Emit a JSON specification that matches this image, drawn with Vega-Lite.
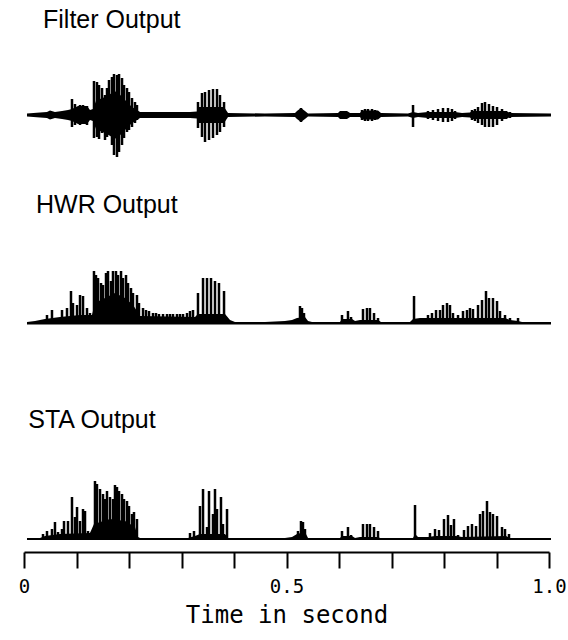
{
  "$schema": "https://vega.github.io/schema/vega-lite/v6.json",
  "background": "white",
  "padding": {"left": 18, "top": 8, "right": 0, "bottom": 0},
  "spacing": 10,
  "config": {
    "view": {"stroke": null},
    "title": {"font": "Liberation Sans", "fontSize": 25, "fontWeight": "normal", "anchor": "start", "color": "black", "offset": 4}
  },
  "datasets": {
    "filterSpikes": [
      {"t":0.0914,"hi":16,"lo":-12},{"t":0.0971,"hi":11,"lo":-10},{"t":0.1067,"hi":10,"lo":-10},{"t":0.1124,"hi":10,"lo":-9},{"t":0.12,"hi":9,"lo":-10},
      {"t":0.1333,"hi":34,"lo":-23},{"t":0.139,"hi":33,"lo":-22},{"t":0.1429,"hi":30,"lo":-24},{"t":0.1486,"hi":27,"lo":-18},{"t":0.1543,"hi":20,"lo":-25},{"t":0.1581,"hi":27,"lo":-22},{"t":0.1619,"hi":35,"lo":-17},{"t":0.1676,"hi":38,"lo":-30},{"t":0.1714,"hi":41,"lo":-40},{"t":0.1771,"hi":40,"lo":-42},{"t":0.181,"hi":41,"lo":-37},{"t":0.1867,"hi":37,"lo":-30},{"t":0.1905,"hi":30,"lo":-23},{"t":0.1962,"hi":27,"lo":-17},{"t":0.2,"hi":23,"lo":-15},{"t":0.2057,"hi":17,"lo":-12},{"t":0.2114,"hi":13,"lo":-8},{"t":0.2152,"hi":10,"lo":-5},
      {"t":0.3314,"hi":13,"lo":-13},{"t":0.339,"hi":22,"lo":-22},{"t":0.3448,"hi":23,"lo":-27},{"t":0.3524,"hi":25,"lo":-25},{"t":0.36,"hi":26,"lo":-23},{"t":0.3676,"hi":26,"lo":-20},{"t":0.3733,"hi":20,"lo":-17},{"t":0.381,"hi":13,"lo":-12},
      {"t":0.5276,"hi":7,"lo":-7},
      {"t":0.6438,"hi":5,"lo":-5},{"t":0.6495,"hi":6,"lo":-6},{"t":0.6552,"hi":6,"lo":-6},{"t":0.6629,"hi":6,"lo":-6},{"t":0.6686,"hi":5,"lo":-5},
      {"t":0.741,"hi":10,"lo":-12},
      {"t":0.7695,"hi":4,"lo":-4},{"t":0.779,"hi":5,"lo":-5},{"t":0.7886,"hi":6,"lo":-6},{"t":0.7981,"hi":7,"lo":-7},{"t":0.8076,"hi":7,"lo":-7},{"t":0.8152,"hi":6,"lo":-6},{"t":0.821,"hi":4,"lo":-4},
      {"t":0.8533,"hi":5,"lo":-5},{"t":0.859,"hi":6,"lo":-6},{"t":0.8648,"hi":8,"lo":-8},{"t":0.8724,"hi":12,"lo":-10},{"t":0.8781,"hi":13,"lo":-12},{"t":0.8857,"hi":11,"lo":-12},{"t":0.8933,"hi":9,"lo":-12},{"t":0.901,"hi":8,"lo":-10},{"t":0.9105,"hi":6,"lo":-6},{"t":0.9181,"hi":4,"lo":-4},{"t":0.9257,"hi":3,"lo":-3}
    ],
    "filterFloor": [
      {"t":0.0057,"hi":1.5,"lo":-1.5},{"t":0.0305,"hi":2.5,"lo":-2.5},{"t":0.0438,"hi":3,"lo":-3},{"t":0.0495,"hi":4.5,"lo":-4.5},{"t":0.059,"hi":3,"lo":-3},{"t":0.0724,"hi":4,"lo":-4},{"t":0.0838,"hi":5,"lo":-5},{"t":0.0914,"hi":6,"lo":-6},{"t":0.1029,"hi":9,"lo":-9},{"t":0.12,"hi":9,"lo":-9},{"t":0.1257,"hi":5,"lo":-5},{"t":0.1314,"hi":6,"lo":-6},{"t":0.1371,"hi":14,"lo":-14},{"t":0.1448,"hi":16,"lo":-16},{"t":0.1543,"hi":18,"lo":-18},{"t":0.1676,"hi":22,"lo":-22},{"t":0.1771,"hi":24,"lo":-24},{"t":0.1867,"hi":18,"lo":-18},{"t":0.1981,"hi":12,"lo":-12},{"t":0.2057,"hi":8,"lo":-8},{"t":0.2152,"hi":5,"lo":-5},{"t":0.221,"hi":3,"lo":-3},{"t":0.3162,"hi":3,"lo":-3},{"t":0.3295,"hi":3.5,"lo":-3.5},{"t":0.3314,"hi":8,"lo":-8},{"t":0.381,"hi":8,"lo":-8},{"t":0.3886,"hi":2,"lo":-2},{"t":0.459,"hi":1.5,"lo":-1.5},{"t":0.5162,"hi":2,"lo":-2},{"t":0.52,"hi":4,"lo":-4},{"t":0.5276,"hi":7,"lo":-7},{"t":0.5352,"hi":4,"lo":-4},{"t":0.541,"hi":1.5,"lo":-1.5},{"t":0.5981,"hi":2,"lo":-2},{"t":0.6019,"hi":4,"lo":-4},{"t":0.6152,"hi":4,"lo":-4},{"t":0.621,"hi":2,"lo":-2},{"t":0.64,"hi":2,"lo":-2},{"t":0.6438,"hi":4.5,"lo":-4.5},{"t":0.6743,"hi":4.5,"lo":-4.5},{"t":0.68,"hi":2,"lo":-2},{"t":0.7314,"hi":1.5,"lo":-1.5},{"t":0.741,"hi":3,"lo":-3},{"t":0.7505,"hi":2,"lo":-2},{"t":0.7695,"hi":3,"lo":-3},{"t":0.821,"hi":3,"lo":-3},{"t":0.8343,"hi":2,"lo":-2},{"t":0.8495,"hi":2.5,"lo":-2.5},{"t":0.8533,"hi":4,"lo":-4},{"t":0.9181,"hi":4,"lo":-4},{"t":0.9257,"hi":2,"lo":-2},{"t":1.0038,"hi":1.5,"lo":-1.5}
    ],
    "hwrSpikes": [
      {"t":0.0438,"a":8},{"t":0.0533,"a":13},{"t":0.0724,"a":13},{"t":0.0819,"a":15},{"t":0.0895,"a":32},{"t":0.0933,"a":20},{"t":0.101,"a":18},{"t":0.1067,"a":28},{"t":0.1124,"a":27},{"t":0.12,"a":15},{"t":0.1257,"a":10},
      {"t":0.1333,"a":52},{"t":0.1371,"a":48},{"t":0.141,"a":45},{"t":0.1467,"a":40},{"t":0.1505,"a":38},{"t":0.1562,"a":50},{"t":0.16,"a":52},{"t":0.1657,"a":42},{"t":0.1695,"a":52},{"t":0.1752,"a":52},{"t":0.179,"a":48},{"t":0.1848,"a":52},{"t":0.1886,"a":45},{"t":0.1943,"a":48},{"t":0.1981,"a":40},{"t":0.2038,"a":35},{"t":0.2076,"a":30},{"t":0.2152,"a":28},{"t":0.219,"a":20},
      {"t":0.2267,"a":15},{"t":0.2324,"a":13},{"t":0.2381,"a":12},{"t":0.2457,"a":10},{"t":0.2514,"a":10},{"t":0.2571,"a":9},{"t":0.2648,"a":9},{"t":0.2724,"a":9},{"t":0.2781,"a":9},{"t":0.2838,"a":9},{"t":0.2914,"a":9},{"t":0.2971,"a":9},{"t":0.3029,"a":9},{"t":0.3105,"a":10},{"t":0.3162,"a":12},{"t":0.3219,"a":13},
      {"t":0.3314,"a":30},{"t":0.341,"a":45},{"t":0.3486,"a":45},{"t":0.3562,"a":45},{"t":0.3638,"a":42},{"t":0.3714,"a":40},{"t":0.381,"a":32},
      {"t":0.5257,"a":17},{"t":0.5295,"a":15},{"t":0.5333,"a":10},
      {"t":0.6057,"a":8},{"t":0.6171,"a":12},{"t":0.6229,"a":6},
      {"t":0.6457,"a":14},{"t":0.6533,"a":15},{"t":0.659,"a":15},{"t":0.6667,"a":10},{"t":0.6743,"a":5},
      {"t":0.7429,"a":27},
      {"t":0.7581,"a":5},{"t":0.7695,"a":8},{"t":0.7771,"a":10},{"t":0.7848,"a":13},{"t":0.7924,"a":13},{"t":0.7981,"a":18},{"t":0.8057,"a":20},{"t":0.8114,"a":18},{"t":0.8171,"a":10},{"t":0.8267,"a":8},{"t":0.8362,"a":12},{"t":0.8438,"a":13},{"t":0.8495,"a":15},{"t":0.8552,"a":14},{"t":0.8648,"a":18},{"t":0.8724,"a":23},{"t":0.88,"a":32},{"t":0.8857,"a":25},{"t":0.8933,"a":25},{"t":0.901,"a":22},{"t":0.9067,"a":12},{"t":0.9162,"a":8},{"t":0.9257,"a":5},{"t":0.941,"a":5}
    ],
    "hwrFloor": [
      {"t":0.0057,"a":1},{"t":0.021,"a":2},{"t":0.04,"a":4},{"t":0.0686,"a":6},{"t":0.1067,"a":8},{"t":0.1295,"a":8},{"t":0.1352,"a":20},{"t":0.1543,"a":25},{"t":0.1733,"a":30},{"t":0.1924,"a":25},{"t":0.2076,"a":18},{"t":0.2152,"a":12},{"t":0.221,"a":7},{"t":0.3257,"a":6},{"t":0.3314,"a":9},{"t":0.3829,"a":9},{"t":0.3924,"a":3},{"t":0.4019,"a":1},{"t":0.459,"a":1},{"t":0.4971,"a":2},{"t":0.5105,"a":3},{"t":0.52,"a":5},{"t":0.5352,"a":6},{"t":0.541,"a":2},{"t":0.5486,"a":1},{"t":0.6019,"a":1},{"t":0.6057,"a":4},{"t":0.6248,"a":4},{"t":0.6305,"a":2},{"t":0.64,"a":3},{"t":0.6743,"a":3},{"t":0.68,"a":1},{"t":0.7352,"a":1},{"t":0.741,"a":4},{"t":0.7543,"a":5},{"t":0.9162,"a":5},{"t":0.9257,"a":3},{"t":0.941,"a":2},{"t":0.9486,"a":1},{"t":1.0038,"a":1}
    ],
    "staSpikes": [
      {"t":0.0362,"a":5},{"t":0.0438,"a":8},{"t":0.0533,"a":10},{"t":0.059,"a":17},{"t":0.0648,"a":7},{"t":0.0724,"a":10},{"t":0.0762,"a":18},{"t":0.0838,"a":18},{"t":0.0914,"a":42},{"t":0.0971,"a":22},{"t":0.101,"a":32},{"t":0.1067,"a":18},{"t":0.1124,"a":30},{"t":0.1162,"a":28},{"t":0.1219,"a":8},{"t":0.1295,"a":7},
      {"t":0.1352,"a":58},{"t":0.139,"a":55},{"t":0.1448,"a":50},{"t":0.1505,"a":45},{"t":0.1543,"a":40},{"t":0.1581,"a":48},{"t":0.1638,"a":42},{"t":0.1695,"a":40},{"t":0.1733,"a":54},{"t":0.1771,"a":52},{"t":0.181,"a":48},{"t":0.1867,"a":45},{"t":0.1905,"a":40},{"t":0.1962,"a":38},{"t":0.2,"a":33},{"t":0.2057,"a":25},{"t":0.2095,"a":27},{"t":0.2152,"a":20},
      {"t":0.3162,"a":6},{"t":0.3238,"a":8},{"t":0.3352,"a":33},{"t":0.341,"a":50},{"t":0.3486,"a":12},{"t":0.3524,"a":48},{"t":0.36,"a":25},{"t":0.3638,"a":50},{"t":0.3676,"a":30},{"t":0.3752,"a":42},{"t":0.379,"a":15},{"t":0.3867,"a":30},
      {"t":0.5219,"a":8},{"t":0.5276,"a":18},{"t":0.5314,"a":17},{"t":0.5352,"a":10},
      {"t":0.6057,"a":8},{"t":0.6171,"a":12},{"t":0.6229,"a":4},
      {"t":0.6457,"a":15},{"t":0.6533,"a":15},{"t":0.659,"a":15},{"t":0.6667,"a":12},{"t":0.6743,"a":8},
      {"t":0.7448,"a":34},
      {"t":0.7733,"a":6},{"t":0.7829,"a":10},{"t":0.7905,"a":9},{"t":0.8,"a":20},{"t":0.8076,"a":24},{"t":0.8133,"a":14},{"t":0.819,"a":20},{"t":0.8267,"a":4},{"t":0.8381,"a":9},{"t":0.8457,"a":13},{"t":0.8533,"a":15},{"t":0.861,"a":13},{"t":0.8686,"a":25},{"t":0.8743,"a":28},{"t":0.8819,"a":38},{"t":0.8876,"a":27},{"t":0.8933,"a":25},{"t":0.901,"a":23},{"t":0.9105,"a":12},{"t":0.9162,"a":10},{"t":0.9238,"a":5}
    ],
    "staFloor": [
      {"t":0.0057,"a":1},{"t":0.0305,"a":1},{"t":0.04,"a":3},{"t":0.0686,"a":5},{"t":0.1257,"a":6},{"t":0.1333,"a":15},{"t":0.1638,"a":20},{"t":0.1924,"a":18},{"t":0.2114,"a":12},{"t":0.2171,"a":2},{"t":0.221,"a":1},{"t":0.3124,"a":1},{"t":0.3257,"a":3},{"t":0.3352,"a":5},{"t":0.3829,"a":5},{"t":0.3886,"a":1},{"t":0.4971,"a":1},{"t":0.5105,"a":2},{"t":0.52,"a":5},{"t":0.5352,"a":7},{"t":0.541,"a":1},{"t":0.6019,"a":1},{"t":0.6057,"a":3},{"t":0.6248,"a":3},{"t":0.6305,"a":1},{"t":0.64,"a":2},{"t":0.6743,"a":2},{"t":0.6781,"a":1},{"t":0.741,"a":1},{"t":0.7448,"a":5},{"t":0.7505,"a":2},{"t":0.7695,"a":2},{"t":0.7829,"a":3},{"t":0.8229,"a":3},{"t":0.8343,"a":2},{"t":0.9181,"a":3},{"t":0.9257,"a":1},{"t":1.0038,"a":1}
    ]
  },
  "vconcat": [
    {
      "width": 525,
      "height": 146,
      "title": {"text": "Filter Output", "dx": 19},
      "layer": [
        {
          "data": {"name": "filterFloor"},
          "mark": {"type": "area", "color": "black"},
          "encoding": {
            "x": {"field": "t", "type": "quantitative", "scale": {"domain": [0, 1], "nice": false, "zero": false}, "axis": null},
            "y": {"field": "hi", "type": "quantitative", "scale": {"domain": [-68, 78], "nice": false, "zero": false}, "axis": null},
            "y2": {"field": "lo"}
          }
        },
        {
          "data": {"name": "filterSpikes"},
          "mark": {"type": "rule", "color": "black", "strokeWidth": 2.5},
          "encoding": {
            "x": {"field": "t", "type": "quantitative", "scale": {"domain": [0, 1], "nice": false, "zero": false}, "axis": null},
            "y": {"field": "hi", "type": "quantitative", "scale": {"domain": [-68, 78], "nice": false, "zero": false}, "axis": null},
            "y2": {"field": "lo"}
          }
        }
      ]
    },
    {
      "width": 525,
      "height": 176,
      "title": {"text": "HWR Output", "dx": 12},
      "layer": [
        {
          "data": {"name": "hwrFloor"},
          "mark": {"type": "area", "color": "black"},
          "encoding": {
            "x": {"field": "t", "type": "quantitative", "scale": {"domain": [0, 1], "nice": false, "zero": false}, "axis": null},
            "y": {"field": "a", "type": "quantitative", "scale": {"domain": [-75, 101], "nice": false, "zero": false}, "axis": null},
            "y2": {"datum": -1.5}
          }
        },
        {
          "data": {"name": "hwrSpikes"},
          "mark": {"type": "rule", "color": "black", "strokeWidth": 2.5},
          "encoding": {
            "x": {"field": "t", "type": "quantitative", "scale": {"domain": [0, 1], "nice": false, "zero": false}, "axis": null},
            "y": {"field": "a", "type": "quantitative", "scale": {"domain": [-75, 101], "nice": false, "zero": false}, "axis": null},
            "y2": {"datum": 0}
          }
        }
      ]
    },
    {
      "width": 525,
      "height": 115,
      "title": {"text": "STA Output", "dx": 10},
      "layer": [
        {
          "data": {"name": "staFloor"},
          "mark": {"type": "area", "color": "black"},
          "encoding": {
            "x": {
              "field": "t", "type": "quantitative",
              "scale": {"domain": [0, 1], "nice": false, "zero": false},
              "axis": {
                "values": [0, 0.1, 0.2, 0.3, 0.4, 0.5, 0.6, 0.7, 0.8, 0.9, 1],
                "labelExpr": "datum.value == 0 ? '0' : datum.value == 0.5 ? '0.5' : datum.value == 1 ? '1.0' : ''",
                "grid": false,
                "domainColor": "black", "domainWidth": 2,
                "tickColor": "black", "tickWidth": 2, "tickSize": 16,
                "labelFont": "DejaVu Sans Mono", "labelFontSize": 19, "labelColor": "black", "labelPadding": 9,
                "labelFlush": false, "labelOverlap": false, "labelBound": false,
                "title": "Time in second",
                "titleFont": "DejaVu Sans Mono", "titleFontSize": 24, "titleFontWeight": "normal", "titleColor": "black", "titlePadding": 7
              }
            },
            "y": {"field": "a", "type": "quantitative", "scale": {"domain": [-13, 102], "nice": false, "zero": false}, "axis": null},
            "y2": {"datum": -1}
          }
        },
        {
          "data": {"name": "staSpikes"},
          "mark": {"type": "rule", "color": "black", "strokeWidth": 2.5},
          "encoding": {
            "x": {"field": "t", "type": "quantitative", "scale": {"domain": [0, 1], "nice": false, "zero": false}},
            "y": {"field": "a", "type": "quantitative", "scale": {"domain": [-13, 102], "nice": false, "zero": false}, "axis": null},
            "y2": {"datum": 0}
          }
        }
      ]
    }
  ]
}
